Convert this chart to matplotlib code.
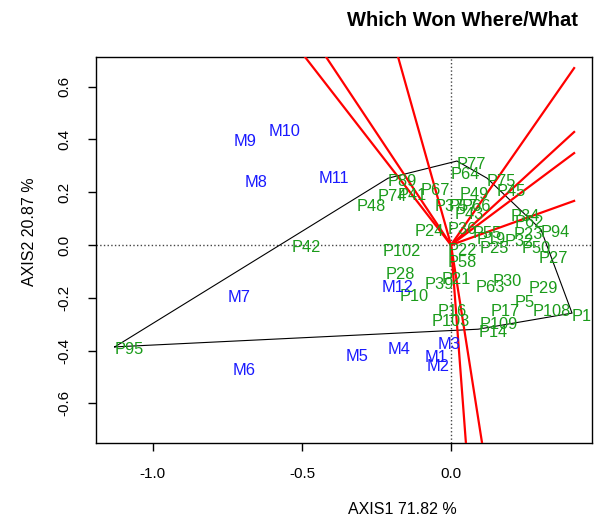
import matplotlib
matplotlib.use('Agg')
import matplotlib.pyplot as plt
from matplotlib.transforms import offset_copy

plt.rcParams['font.family'] = ['Liberation Sans', 'DejaVu Sans']

# genotype scores (labels drawn at the points)
gen_names = ['P77', 'P64', 'P89', 'P67', 'P75', 'P45', 'P49', 'P74', 'P41', 'P48',
             'P37', 'P57', 'P66', 'P43', 'P24', 'P36', 'P55', 'P19', 'P25', 'P32',
             'P23', 'P34', 'P62', 'P94', 'P50', 'P27', 'P22', 'P58', 'P102', 'P28',
             'P10', 'P39', 'P21', 'P16', 'P103', 'P30', 'P63', 'P29', 'P5', 'P17',
             'P108', 'P1', 'P109', 'P14', 'P42', 'P95']
gen_x = [0.020, 0.000, -0.211, -0.101, 0.121, 0.154, 0.030, -0.245, -0.178, -0.315,
         -0.054, -0.007, 0.037, 0.013, -0.121, -0.013, 0.074, 0.087, 0.097, 0.181,
         0.211, 0.201, 0.215, 0.302, 0.238, 0.295, -0.013, -0.013, -0.228, -0.221,
         -0.174, -0.087, -0.030, -0.044, -0.064, 0.141, 0.081, 0.262, 0.215, 0.134,
         0.275, 0.406, 0.097, 0.091, -0.534, -1.128]
gen_y = [0.318, 0.280, 0.253, 0.219, 0.253, 0.215, 0.204, 0.196, 0.200, 0.159,
         0.159, 0.159, 0.159, 0.128, 0.064, 0.071, 0.056, 0.034, -0.001, 0.026,
         0.052, 0.121, 0.098, 0.058, -0.001, -0.038, -0.008, -0.054, -0.012, -0.099,
         -0.182, -0.137, -0.118, -0.239, -0.277, -0.126, -0.148, -0.152, -0.205, -0.239,
         -0.239, -0.258, -0.288, -0.319, 0.003, -0.386]

# environment scores
env_names = ['M1', 'M2', 'M3', 'M4', 'M5', 'M6', 'M7', 'M8', 'M9', 'M10', 'M11', 'M12']
env_x = [-0.087, -0.081, -0.044, -0.211, -0.352, -0.732, -0.748, -0.691, -0.728, -0.611, -0.443, -0.232]
env_y = [-0.413, -0.448, -0.364, -0.383, -0.410, -0.463, -0.186, 0.249, 0.405, 0.443, 0.265, -0.148]

# polygon of vertex genotypes
hull = ['P95', 'P89', 'P77', 'P75', 'P94', 'P1', 'P14', 'P95']

# ends of the sector rays (from the origin)
ray_x = [0.413, 0.413, 0.413, 0.413, -0.637, -0.545, -0.231, 0.060, 0.125]
ray_y = [0.670, 0.428, 0.348, 0.167, 0.926, 0.926, 0.926, -0.900, -0.900]

fig = plt.figure(figsize=(5.98, 5.16), dpi=100)
ax = fig.add_axes([96/598, 1-443/516, (592-96)/598, (443-57)/516])

ax.axhline(0, color='#444444', ls=':', lw=1.0, zorder=1)
ax.axvline(0, color='#444444', ls=':', lw=1.0, zorder=1)

pos = dict(zip(gen_names, zip(gen_x, gen_y)))
hx = [pos[n][0] for n in hull]
hy = [pos[n][1] for n in hull]
ax.plot(hx, hy, color='black', lw=0.8, zorder=2)

for rx, ry in zip(ray_x, ray_y):
    ax.plot([0, rx], [0, ry], color='red', lw=1.6, zorder=3)

# labels sit a little below their points, as in R's text()
lab_tr = offset_copy(ax.transData, fig=fig, x=0, y=-3, units='dots')
for n, x, y in zip(gen_names, gen_x, gen_y):
    ax.text(x, y, n, color='#1a9b1a', fontsize=11.8, ha='left', va='center',
            zorder=4, transform=lab_tr)
for n, x, y in zip(env_names, env_x, env_y):
    ax.text(x, y, n, color='#1a1aff', fontsize=11.8, ha='left', va='center',
            zorder=4, transform=lab_tr)

ax.set_xlim(-1.191, 0.473)
ax.set_ylim(-0.750, 0.712)
ax.set_xticks([-1.0, -0.5, 0.0])
ax.set_xticklabels(['-1.0', '-0.5', '0.0'])
ax.set_yticks([-0.6, -0.4, -0.2, 0.0, 0.2, 0.4, 0.6])
ax.set_yticklabels(['-0.6', '-0.4', '-0.2', '0.0', '0.2', '0.4', '0.6'], rotation=90, va='center')
ax.tick_params(direction='out', length=6, width=1, labelsize=11)
ax.tick_params(axis='x', pad=11)
ax.tick_params(axis='y', pad=12)
for s in ax.spines.values():
    s.set_linewidth(1.0)

fig.text(462/598, 1-21/516, 'Which Won Where/What', fontsize=14.5, fontweight='bold',
         ha='center', va='center')
fig.text(402/598, 1-509/516, 'AXIS1 71.82 %', fontsize=11.5, ha='center', va='center')
fig.text(30/598, 1-232/516, 'AXIS2 20.87 %', fontsize=11.5, ha='center', va='center', rotation=90)

fig.savefig('out.png', dpi=100)
